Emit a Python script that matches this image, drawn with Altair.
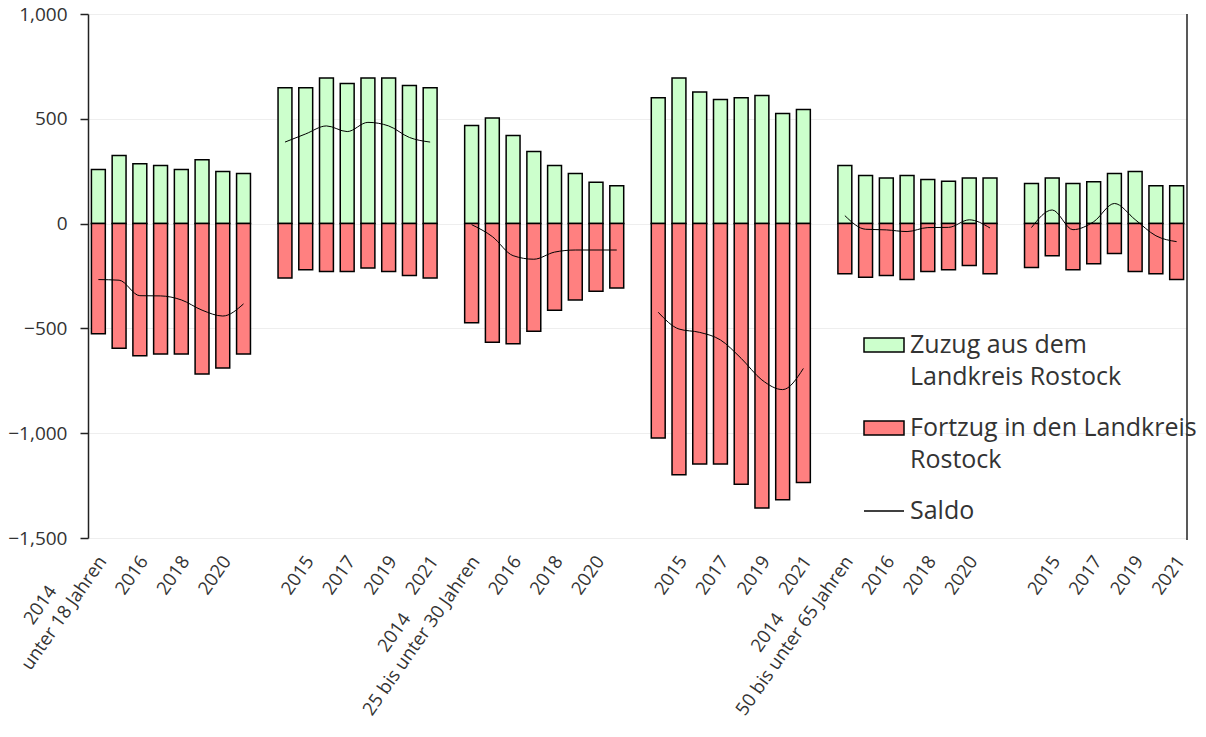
import altair as alt
import pandas as pd

# ---------------- data ----------------
years = [2014, 2015, 2016, 2017, 2018, 2019, 2020, 2021]
groups = [
    "unter 18 Jahren",
    "18 bis unter 25 Jahren",
    "25 bis unter 30 Jahren",
    "30 bis unter 50 Jahren",
    "50 bis unter 65 Jahren",
    "65 Jahre und älter",
]
series_names = ["Zuzug aus dem\nLandkreis Rostock", "Fortzug in den Landkreis\nRostock", "Saldo"]

zuzug_u18 = [258, 325, 286, 277, 258, 305, 248, 239]
zuzug_18_25 = [648, 648, 695, 668, 695, 695, 659, 648]
zuzug_25_30 = [468, 504, 420, 344, 277, 239, 197, 181]
zuzug_30_50 = [600, 695, 628, 592, 600, 611, 525, 544]
zuzug_50_65 = [277, 229, 218, 229, 210, 202, 218, 218]
zuzug_65 = [191, 218, 191, 200, 239, 248, 181, 181]

fortzug_u18 = [-525, -595, -630, -622, -622, -718, -689, -622]
fortzug_18_25 = [-259, -220, -229, -229, -212, -229, -248, -259]
fortzug_25_30 = [-473, -566, -573, -514, -413, -365, -323, -307]
fortzug_30_50 = [-1023, -1198, -1147, -1147, -1243, -1357, -1317, -1235]
fortzug_50_65 = [-239, -256, -248, -267, -229, -220, -200, -239]
fortzug_65 = [-210, -153, -220, -191, -143, -229, -239, -267]

saldo_u18 = [-267, -270, -344, -345, -364, -413, -441, -383]
saldo_18_25 = [389, 428, 466, 439, 483, 466, 411, 389]
saldo_25_30 = [-5, -62, -153, -170, -136, -126, -126, -126]
saldo_30_50 = [-423, -503, -519, -555, -643, -746, -792, -691]
saldo_50_65 = [38, -27, -30, -38, -19, -18, 18, -21]
saldo_65 = [-19, 65, -29, 9, 96, 19, -58, -86]

zuzug = [zuzug_u18, zuzug_18_25, zuzug_25_30, zuzug_30_50, zuzug_50_65, zuzug_65]
fortzug = [fortzug_u18, fortzug_18_25, fortzug_25_30, fortzug_30_50, fortzug_50_65, fortzug_65]
saldo = [saldo_u18, saldo_18_25, saldo_25_30, saldo_30_50, saldo_50_65, saldo_65]

# ---------------- tables ----------------
SLOTS_PER_GROUP = len(years) + 1
n_slots = len(groups) * SLOTS_PER_GROUP - 1

bar_rows, line_rows, label_rows = [], [], []
for g, grp in enumerate(groups):
    for i, yr in enumerate(years):
        slot = g * SLOTS_PER_GROUP + i
        bar_rows.append({"slot": slot, "Art": series_names[0], "value": zuzug[g][i]})
        bar_rows.append({"slot": slot, "Art": series_names[1], "value": fortzug[g][i]})
        line_rows.append({"slot": slot, "group": grp, "saldo": saldo[g][i], "serie": series_names[2]})
        if slot % 2 == 0:
            if i == 0:
                # centre the year above the group name (right-aligned block)
                pad = "\u00a0" * max(0, round((len(grp) * 9.5 - 41) / 2 / 4.7))
                txt = f"{yr}{pad}\u200b\n{grp}"
            else:
                txt = f"\n{yr}"
            label_rows.append({"slot": slot, "label": txt})

bars_df = pd.DataFrame(bar_rows)
line_df = pd.DataFrame(line_rows)
label_df = pd.DataFrame(label_rows)

FONT = "Open Sans"
W, H = 1099, 524
LH = 24

x_scale = alt.Scale(domain=list(range(n_slots)), paddingInner=0.33, paddingOuter=0.165)
x_enc = alt.X("slot:O", scale=x_scale, axis=None)
y_scale = alt.Scale(domain=[-1500, 1000], nice=False)

bars = alt.Chart(bars_df).mark_bar(stroke="black", strokeWidth=1.5).encode(
    x=x_enc,
    y=alt.Y(
        "value:Q",
        scale=y_scale,
        axis=alt.Axis(
            values=[-1500, -1000, -500, 0, 500, 1000],
            format=",.0f",
            title=None,
            labelFont=FONT,
            labelFontSize=19,
            labelColor="#333",
            labelPadding=13,
            tickSize=8,
            tickColor="#222",
            tickWidth=1.5,
            domainColor="#222",
            domainWidth=1.5,
            gridColor="#eeeeee",
            gridWidth=1,
        ),
    ),
    fill=alt.Fill(
        "Art:N",
        scale=alt.Scale(domain=series_names[:2], range=["#ccffcc", "#ff8080"]),
        legend=alt.Legend(
            orient="none",
            legendX=775,
            legendY=310,
            zindex=0,
            title=None,
            symbolType="M-1,-0.35H1V0.35H-1Z",
            symbolSize=1600,
            symbolStrokeColor="black",
            symbolStrokeWidth=1.5,
            symbolOpacity=1,
            labelFont=FONT,
            labelFontSize=25,
            labelColor="#333",
            labelLimit=600,
            labelOffset=5,
            labelExpr="split(datum.label, '\\n')",
            rowPadding=17,
            padding=0,
        ),
    ),
)

line = alt.Chart(line_df).mark_line(interpolate="monotone", strokeWidth=1).encode(
    x=x_enc,
    y=alt.Y("saldo:Q", scale=y_scale, title=None),
    detail="group:N",
    stroke=alt.Stroke(
        "serie:N",
        scale=alt.Scale(domain=[series_names[2]], range=["black"]),
        legend=alt.Legend(
            orient="none",
            legendX=775,
            legendY=476,
            zindex=0,
            title=None,
            symbolType="stroke",
            symbolSize=1600,
            symbolStrokeWidth=1.5,
            labelFont=FONT,
            labelFontSize=25,
            labelColor="#333",
            labelOffset=5,
            padding=0,
        ),
    ),
)

labels = alt.Chart(label_df).mark_text(
    angle=305,
    align="right",
    baseline="middle",
    lineBreak="\n",
    lineHeight=LH,
    font=FONT,
    fontSize=18.5,
    color="#333",
    dx=2.3,
    dy=3.3 - LH,
).encode(
    x=x_enc,
    y=alt.value(H + 20),
    text="label:N",
)

right_line = alt.Chart(pd.DataFrame({"k": [0]})).mark_rule(color="#222", strokeWidth=1.5).encode(
    x=alt.value(W), y=alt.value(0), y2=alt.value(H + 2)
)

chart = (
    alt.layer(bars, line, labels, right_line)
    .resolve_scale(y="shared")
    .properties(
        width=W,
        height=H,
        autosize=alt.AutoSizeParams(type="none"),
        padding={"left": 88, "top": 14, "right": 19, "bottom": 199},
        background="white",
    )
    .configure(style={"guide-label": {"lineHeight": 32}})
    .configure_view(stroke=None)
)

chart.save("out.html", embed_options={"renderer": "svg", "actions": False})
